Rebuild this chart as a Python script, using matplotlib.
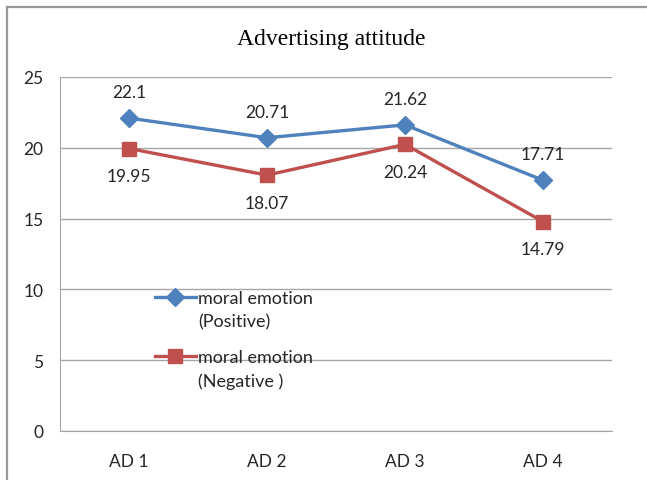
import matplotlib.pyplot as plt
from matplotlib.lines import Line2D
from matplotlib.legend_handler import HandlerLine2D

categories = ['AD 1', 'AD 2', 'AD 3', 'AD 4']
positive = [22.1, 20.71, 21.62, 17.71]
negative = [19.95, 18.07, 20.24, 14.79]
positive_labels = ['22.1', '20.71', '21.62', '17.71']
negative_labels = ['19.95', '18.07', '20.24', '14.79']
yticks = [0, 5, 10, 15, 20, 25]

blue = '#4F81BD'
red = '#C0504D'
grid_gray = '#A6A6A6'
text_color = '#262626'
label_font = ['Lato', 'DejaVu Sans']
fsize = 12.5


class TopLineHandler(HandlerLine2D):
    # put the legend key next to the first line of a two-line label
    def create_artists(self, legend, orig_handle, xdescent, ydescent,
                       width, height, fontsize, trans):
        return super().create_artists(legend, orig_handle, xdescent,
                                      ydescent - 1.4 * fontsize, width, height,
                                      fontsize, trans)


fig = plt.figure(figsize=(6.47, 4.81), dpi=100)
ax = fig.add_axes([60 / 647, 1 - 432 / 481, 552 / 647, 354 / 481])

x = list(range(len(categories)))
ax.plot(x, positive, color=blue, linewidth=2.4, marker='D', markersize=9.5,
        label='moral emotion\n(Positive)')
ax.plot(x, negative, color=red, linewidth=2.4, marker='s', markersize=10,
        label='moral emotion\n(Negative )')

for xi, v, s in zip(x, positive, positive_labels):
    ax.annotate(s, (xi, v), xytext=(0, 13), textcoords='offset points',
                ha='center', va='bottom', fontsize=fsize, color=text_color, family=label_font)
for xi, v, s in zip(x, negative, negative_labels):
    ax.annotate(s, (xi, v), xytext=(0, -14), textcoords='offset points',
                ha='center', va='top', fontsize=fsize, color=text_color, family=label_font)

ax.set_xlim(-0.5, 3.5)
ax.set_ylim(0, 25)
ax.set_yticks(yticks)
ax.set_xticks(x)
ax.set_xticklabels(categories)
ax.yaxis.grid(True, color=grid_gray, linewidth=1)
ax.set_axisbelow(True)
for side in ['top', 'right']:
    ax.spines[side].set_visible(False)
ax.spines['left'].set_color(grid_gray)
ax.spines['bottom'].set_color(grid_gray)
ax.tick_params(length=0, labelsize=fsize, colors=text_color, pad=16)
ax.tick_params(axis='y', pad=12)
for lbl in ax.get_xticklabels() + ax.get_yticklabels():
    lbl.set_family(label_font)

leg = ax.legend(loc='upper left', bbox_to_anchor=(0.142, 0.445), frameon=False,
                prop={'family': label_font, 'size': 13}, labelspacing=1.1,
                handlelength=2.3, handletextpad=0.1, labelcolor=text_color,
                handler_map={Line2D: TopLineHandler()})
for t in leg.get_texts():
    t.set_linespacing(1.55)

fig.text(331 / 647, 1 - 40 / 481, 'Advertising attitude', ha='center', va='center',
         fontsize=17, family='Liberation Serif', color='black')

# outer chart frame
fig.add_artist(Line2D([7 / 647, 7 / 647], [0, 1 - 8 / 481], transform=fig.transFigure,
                      color='#999999', linewidth=1.6))
fig.add_artist(Line2D([7 / 647, 1], [1 - 8 / 481, 1 - 8 / 481], transform=fig.transFigure,
                      color='#999999', linewidth=1.6))

fig.savefig('out.png', dpi=100)
